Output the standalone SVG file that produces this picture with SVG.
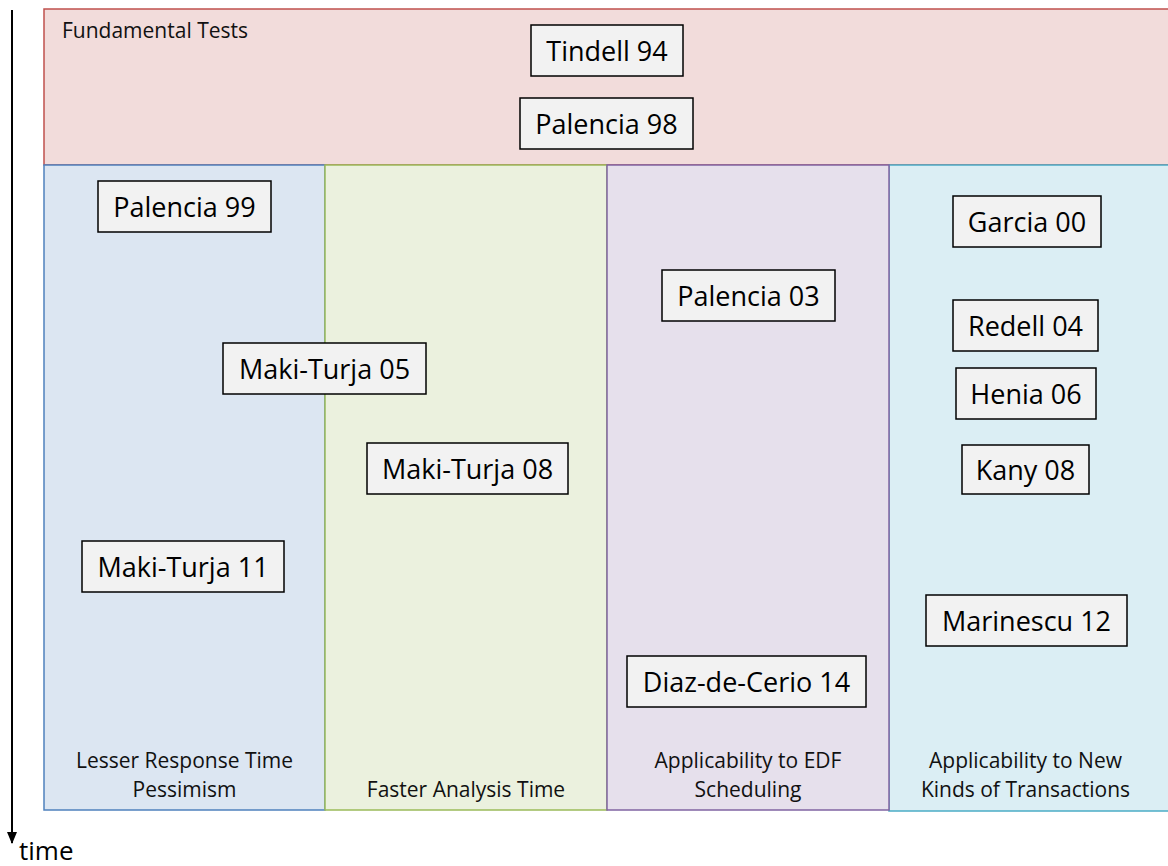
<svg xmlns="http://www.w3.org/2000/svg" width="1168" height="866" viewBox="0 0 1168 866">
<style>
.node rect{fill:#F2F2F2;stroke:#000;stroke-width:1.5}
.node text{font-family:"Open Sans","Noto Sans",sans-serif;font-size:27px;fill:#000;text-anchor:middle;dominant-baseline:central}
.lbl{font-family:"Open Sans","Noto Sans",sans-serif;font-size:21px;fill:#111}
.mid{text-anchor:middle}
</style>
<defs>
<marker id="ah" markerWidth="12" markerHeight="12" refX="11" refY="6" orient="auto" markerUnits="userSpaceOnUse" viewBox="0 0 12 12">
<path d="M0,1 L12,6 L0,11 Z" fill="#000"/>
</marker>
</defs>
<g id="regions">
<rect id="fundamental" x="44" y="9" width="1131" height="156" fill="#F2DCDB" stroke="#C0504D" stroke-width="1.5"/>
<rect id="col-aqua" x="889" y="165" width="286" height="646" fill="#DBEEF4" stroke="#4BACC6" stroke-width="1.5"/>
<rect id="col-blue" x="44" y="165" width="281" height="645" fill="#DCE6F2" stroke="#4F81BD" stroke-width="1.5"/>
<rect id="col-green" x="325" y="165" width="282" height="645" fill="#EBF1DE" stroke="#9BBB59" stroke-width="1.5"/>
<rect id="col-purple" x="607" y="165" width="282" height="645" fill="#E6E0EC" stroke="#8064A2" stroke-width="1.5"/>
<text class="lbl" x="62" y="38">Fundamental Tests</text>
<text class="lbl mid" x="184.5" y="768">Lesser Response Time</text>
<text class="lbl mid" x="184.5" y="797">Pessimism</text>
<text class="lbl mid" x="466" y="797">Faster Analysis Time</text>
<text class="lbl mid" x="748" y="768">Applicability to EDF</text>
<text class="lbl mid" x="748" y="797">Scheduling</text>
<text class="lbl mid" x="1025.5" y="768">Applicability to New</text>
<text class="lbl mid" x="1025.5" y="797">Kinds of Transactions</text>
</g>
<g id="connectors">
<line x1="12" y1="10" x2="12" y2="843" stroke="#000" stroke-width="2" marker-end="url(#ah)"/>
</g>
<text x="19" y="860" font-family="Open Sans, Noto Sans, sans-serif" font-size="26" fill="#000">time</text>
<g id="tindell94" class="node"><rect x="531" y="25" width="152" height="51"/><text x="607" y="50.5">Tindell 94</text></g>
<g id="palencia98" class="node"><rect x="520" y="98" width="173" height="51"/><text x="606.5" y="123.5">Palencia 98</text></g>
<g id="palencia99" class="node"><rect x="98" y="181" width="173" height="51"/><text x="184.5" y="206.5">Palencia 99</text></g>
<g id="makiturja05" class="node"><rect x="223" y="343" width="203" height="51"/><text x="324.5" y="368.5">Maki-Turja 05</text></g>
<g id="makiturja08" class="node"><rect x="367" y="443" width="201" height="51"/><text x="467.5" y="468.5">Maki-Turja 08</text></g>
<g id="makiturja11" class="node"><rect x="82" y="541" width="202" height="51"/><text x="183" y="566.5">Maki-Turja 11</text></g>
<g id="palencia03" class="node"><rect x="662" y="270" width="173" height="51"/><text x="748.5" y="295.5">Palencia 03</text></g>
<g id="diazdecerio14" class="node"><rect x="627" y="656" width="239" height="51"/><text x="746.5" y="681.5">Diaz-de-Cerio 14</text></g>
<g id="garcia00" class="node"><rect x="953" y="196" width="148" height="51"/><text x="1027" y="221.5">Garcia 00</text></g>
<g id="redell04" class="node"><rect x="953" y="300" width="145" height="51"/><text x="1025.5" y="325.5">Redell 04</text></g>
<g id="henia06" class="node"><rect x="956" y="368" width="140" height="51"/><text x="1026" y="393.5">Henia 06</text></g>
<g id="kany08" class="node"><rect x="962" y="445" width="127" height="49"/><text x="1025.5" y="469.5">Kany 08</text></g>
<g id="marinescu12" class="node"><rect x="926" y="595" width="201" height="51"/><text x="1026.5" y="620.5">Marinescu 12</text></g>
</svg>
